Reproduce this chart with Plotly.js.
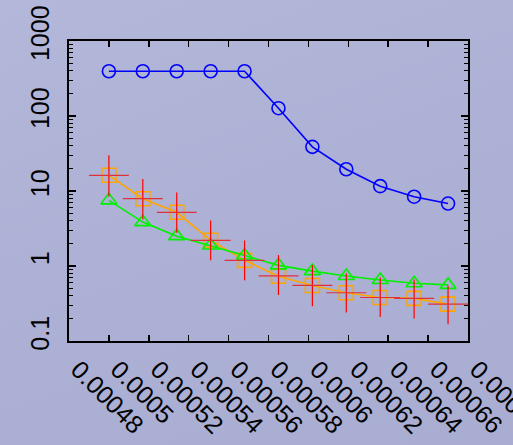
<!DOCTYPE html>
<html>
<head>
<meta charset="utf-8">
<script src="https://cdn.plot.ly/plotly-3.0.1.min.js"></script>
<style>
html,body{margin:0;padding:0;}
body{width:513px;height:445px;overflow:hidden;
background:linear-gradient(160deg,#b3b7d9 0%,#adb1d5 45%,#a9add1 100%);}
#chart{width:513px;height:445px;}
</style>
</head>
<body>
<div id="chart"></div>
<script>
// x positions of the measurements
var xVals = [0.0005, 0.000517, 0.000534, 0.000551, 0.000568, 0.000585, 0.000602, 0.000619, 0.000636, 0.000653, 0.00067];
// blue circles
var blueVals = [395, 395, 395, 395, 395, 127, 38.8, 19.5, 11.6, 8.4, 6.8];
// orange squares
var orangeVals = [16.2, 7.9, 5.2, 2.2, 1.19, 0.73, 0.55, 0.44, 0.38, 0.37, 0.31];
// green triangles
var greenVals = [7.5, 3.85, 2.5, 1.88, 1.38, 1.02, 0.855, 0.735, 0.65, 0.59, 0.56];
// red crosses: centre, upper and lower end of the vertical bar
var redVals = [16.2, 7.9, 5.2, 2.2, 1.19, 0.74, 0.55, 0.44, 0.38, 0.37, 0.31];
var redHigh = [30, 14.5, 9.55, 4.05, 2.19, 1.40, 1.02, 0.80, 0.70, 0.66, 0.55];
var redLow = [8.45, 4.17, 2.77, 1.19, 0.643, 0.41, 0.29, 0.239, 0.209, 0.20, 0.167];
var redXHalfWidth = 0.00001;
// axis ticks
var xTickVals = [0.00048, 0.0005, 0.00052, 0.00054, 0.00056, 0.00058, 0.0006, 0.00062, 0.00064, 0.00066, 0.00068];
var xTickText = ["0.00048", "0.0005", "0.00052", "0.00054", "0.00056", "0.00058", "0.0006", "0.00062", "0.00064", "0.00066", "0.00068"];
var yTickVals = [0.1, 1, 10, 100, 1000];
var yTickText = ["0.1", "1", "10", "100", "1000"];

var errPlus = redHigh.map(function(v, i){ return v - redVals[i]; });
var errMinus = redLow.map(function(v, i){ return redVals[i] - v; });

var traces = [
  {x: xVals, y: blueVals, type: 'scatter', mode: 'lines+markers',
   line: {color: '#0000ff', width: 1.6},
   marker: {symbol: 'circle-open', size: 13, color: '#0000ff', line: {width: 1.6, color: '#0000ff'}}},
  {x: xVals, y: orangeVals, type: 'scatter', mode: 'lines+markers',
   line: {color: '#ffa500', width: 1.6},
   marker: {symbol: 'square-open', size: 14, color: '#ffa500', line: {width: 1.6, color: '#ffa500'}}},
  {x: xVals, y: greenVals, type: 'scatter', mode: 'lines+markers',
   line: {color: '#00f000', width: 1.6},
   marker: {symbol: 'triangle-up-open', size: 14, color: '#00f000', line: {width: 1.6, color: '#00f000'}}},
  {x: xVals, y: redVals, type: 'scatter', mode: 'markers',
   marker: {size: 1, color: 'rgba(255,0,0,0)'},
   error_y: {type: 'data', symmetric: false, array: errPlus, arrayminus: errMinus, color: '#ff0000', thickness: 1.2, width: 0},
   error_x: {type: 'constant', value: redXHalfWidth, color: '#e0303c', thickness: 1.2, width: 0}}
];

var layout = {
  width: 513, height: 445,
  margin: {l: 69, r: 45, t: 41, b: 104, pad: 0},
  paper_bgcolor: 'rgba(0,0,0,0)',
  plot_bgcolor: 'rgba(0,0,0,0)',
  showlegend: false,
  font: {family: 'Liberation Sans, Arial, sans-serif', size: 25, color: '#000'},
  xaxis: {
    range: [0.00048, 0.00068], tickmode: 'array', tickvals: xTickVals, ticktext: xTickText,
    tickangle: 45, ticks: 'inside', ticklen: 6, tickwidth: 1.5, tickcolor: '#000',
    showline: true, linecolor: '#000', linewidth: 2, mirror: 'ticks',
    showgrid: false, zeroline: false, ticklabelstandoff: 2, ticklabelshift: 9,
    ticklabeloverflow: 'allow',
    tickfont: {family: 'Liberation Sans, Arial, sans-serif', size: 25, color: '#000'}
  },
  yaxis: {
    type: 'log', range: [-1, 3], tickmode: 'array', tickvals: yTickVals, ticktext: yTickText,
    tickangle: -90, ticks: 'inside', ticklen: 7, tickwidth: 1.5, tickcolor: '#000',
    showline: true, linecolor: '#000', linewidth: 2, mirror: 'ticks',
    showgrid: false, zeroline: false, ticklabelstandoff: 8, ticklabelshift: -4,
    ticklabeloverflow: 'allow',
    minor: {dtick: 'D1', ticks: 'inside', ticklen: 4, tickwidth: 1.2, tickcolor: '#000', showgrid: false},
    tickfont: {family: 'Liberation Sans, Arial, sans-serif', size: 25, color: '#000'}
  }
};

Plotly.newPlot('chart', traces, layout, {displayModeBar: false, staticPlot: true});
</script>
</body>
</html>
